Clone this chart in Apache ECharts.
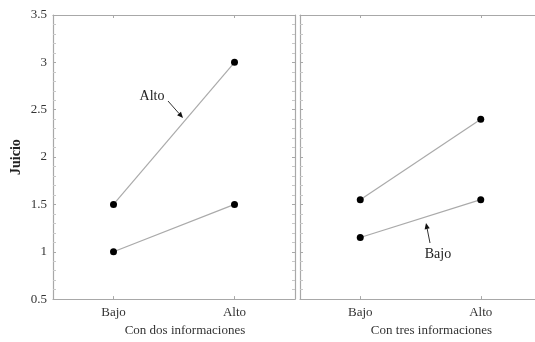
<!DOCTYPE html>
<html><head><meta charset="utf-8">
<script src="https://cdn.jsdelivr.net/npm/echarts@6/dist/echarts.min.js"></script>
<style>html,body{margin:0;padding:0;background:#fff;overflow:hidden}#c{width:545px;height:342px}</style>
</head><body><div id="c"></div>
<script>
const categories = ['Bajo', 'Alto'];
const dosAlto = [1.5, 3.0];
const dosBajo = [1.0, 1.5];
const tresAlto = [1.55, 2.4];
const tresBajo = [1.15, 1.55];
const panelNames = ['Con dos informaciones', 'Con tres informaciones'];
const yName = 'Juicio';

const FONT = 'Liberation Serif';
const AX = '#a8a8a8';
const chart = echarts.init(document.getElementById('c'), null, {renderer: 'canvas'});

function xAx(gi, pos, withLabels) {
  return {
    type: 'category', gridIndex: gi, data: categories, position: pos,
    boundaryGap: true,
    axisLine: {show: true, lineStyle: {color: AX, width: 1.2}},
    axisTick: {show: true, inside: true, alignWithLabel: true, length: 3, lineStyle: {color: AX}},
    axisLabel: {show: withLabels, margin: 7, fontFamily: FONT, fontSize: 13, color: '#333'},
    name: withLabels ? panelNames[gi] : '', nameLocation: 'middle', nameGap: 22,
    nameTextStyle: {fontFamily: FONT, fontSize: 13, color: '#333', padding: [0, 0, 0, 22]},
    splitLine: {show: false}
  };
}
function yAx(gi, pos, withLabels, withName) {
  return {
    type: 'value', gridIndex: gi, position: pos, min: 0.5, max: 3.5, interval: 0.5,
    axisLine: {show: true, lineStyle: {color: AX, width: 1.2}},
    axisTick: {show: true, inside: true, length: 3, lineStyle: {color: AX}},
    minorTick: {show: true, splitNumber: 5, length: 3, lineStyle: {color: '#c8c8c8'}},
    axisLabel: {show: withLabels, margin: 6, fontFamily: FONT, fontSize: 13, color: '#333'},
    splitLine: {show: false},
    name: withName ? yName : '', nameLocation: 'middle', nameGap: 30, nameRotate: 90,
    nameTextStyle: {fontFamily: FONT, fontSize: 14, fontWeight: 'bold', color: '#222'}
  };
}
function ser(xi, yi, data) {
  return {
    type: 'line', xAxisIndex: xi, yAxisIndex: yi, data: data,
    symbol: 'circle', symbolSize: 7, showSymbol: true,
    lineStyle: {color: '#aaa', width: 1.2},
    itemStyle: {color: '#000'}, emphasis: {disabled: true}, animation: false
  };
}
function arrow(x1, y1, x2, y2) {
  const dx = x2 - x1, dy = y2 - y1, L = Math.hypot(dx, dy);
  const ux = dx / L, uy = dy / L, px = -uy, py = ux;
  const hl = 6, hw = 2.6;
  const bx = x2 - ux * hl, by = y2 - uy * hl;
  return [
    {type: 'line', shape: {x1: x1, y1: y1, x2: bx, y2: by}, style: {stroke: '#333', lineWidth: 1}},
    {type: 'polygon', shape: {points: [[x2, y2], [bx + px * hw, by + py * hw], [bx - px * hw, by - py * hw]]}, style: {fill: '#111'}}
  ];
}

chart.setOption({
  animation: false,
  grid: [
    {left: 53, top: 15, width: 242, bottom: 40},
    {left: 300, top: 15, width: 241, bottom: 40}
  ],
  xAxis: [xAx(0, 'bottom', true), xAx(0, 'top', false), xAx(1, 'bottom', true), xAx(1, 'top', false)],
  yAxis: [yAx(0, 'left', true, true), yAx(0, 'right', false, false), yAx(1, 'left', false, false), yAx(1, 'right', false, false)],
  series: [ser(0, 0, dosAlto), ser(0, 0, dosBajo), ser(2, 2, tresAlto), ser(2, 2, tresBajo)],
  graphic: [
    {type: 'text', x: 152, y: 96, style: {text: 'Alto', font: '14px "Liberation Serif"', fill: '#222', align: 'center', verticalAlign: 'middle'}},
    ...arrow(168, 101, 183, 118),
    {type: 'text', x: 438, y: 254, style: {text: 'Bajo', font: '14px "Liberation Serif"', fill: '#222', align: 'center', verticalAlign: 'middle'}},
    ...arrow(430, 243, 426, 223)
  ]
});
</script></body></html>
